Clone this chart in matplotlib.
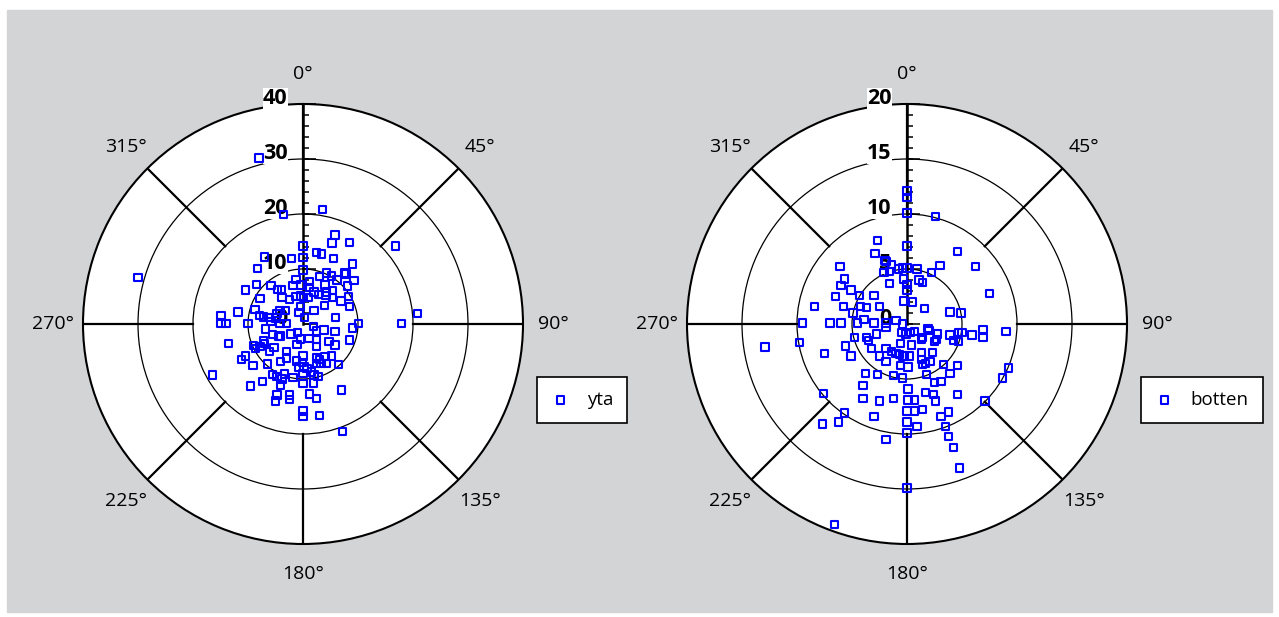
import numpy as np
import matplotlib.pyplot as plt
from matplotlib.patches import Rectangle

plt.rcParams['font.family'] = ['Open Sans', 'DejaVu Sans']

# current vectors, east / north components (cm/s)
yta_east = [
    -3.5, 3.6, 5.8, 5.3, 8.5, 16.8, 0.0, 2.4, 3.4, 5.5,
    -7.0, -2.1, 0.0, 9.0, -8.3, 0.0, 4.3, 5.2, 7.5, 7.8,
    6.2, 9.3, -1.3, 3.0, 1.2, -8.4, -5.8, -4.6, -3.9, -10.4,
    -1.8, -0.5, 1.2, 4.0, 8.1, -7.8, -3.8, -2.5, -1.3, -0.5,
    0.1, 1.0, 2.0, 2.8, 4.3, 5.4, 4.2, 5.4, 6.9, 8.3,
    8.5, 3.9, 2.0, -0.5, -0.7, -3.2, -4.2, -4.7, -8.7, -11.8,
    -14.9, -14.9, -14.0, -10.0, -7.9, -7.2, -6.2, -4.9, -5.8, -4.2,
    -3.0, 0.3, 5.9, 10.1, 9.0, 17.9, 20.8, 1.9, 2.5, 3.8,
    5.8, -2.2, -1.0, -0.5, 1.1, 2.5, 4.7, 5.8, 8.5, -6.8,
    -5.5, -4.5, -4.1, -13.5, -9.0, -8.6, -7.8, -7.2, -7.0, -6.1,
    -5.3, -1.1, 2.5, -3.0, -3.0, 0.0, -0.1, -1.2, 2.4, 3.0,
    4.0, 5.2, 2.4, 3.3, 4.3, 6.5, -10.4, -11.2, -9.1, -6.4,
    -4.1, -0.7, 0.2, 0.7, 0.0, 1.6, 2.0, 2.7, 1.9, -5.5,
    -4.7, -3.4, -1.8, -3.8, -4.1, -7.4, -9.6, 0.0, 1.2, 2.4,
    -2.4, -2.4, -4.7, -5.0, -16.4, 7.0, 0.0, 0.0, 3.0, 7.2,
    -30.0, -8.0,
]
yta_north = [
    19.9, 20.8, 16.2, 14.7, 14.8, 14.2, 14.2, 13.0, 12.7, 11.9,
    12.2, 11.9, 12.1, 10.9, 10.1, 9.8, 9.3, 8.7, 9.3, 9.1,
    8.0, 7.9, 8.1, 8.6, 7.7, 7.2, 7.0, 6.3, 6.3, 6.2,
    7.0, 7.1, 6.6, 7.1, 6.9, 4.6, 4.8, 4.5, 5.0, 5.1,
    4.8, 4.8, 5.8, 5.4, 5.8, 6.1, 5.2, 4.8, 4.2, 5.0,
    3.2, 3.4, 2.5, 3.2, 2.1, 2.5, 2.4, 1.9, 2.6, 2.2,
    1.5, 0.1, 0.1, 0.1, 1.5, 1.3, 1.2, 1.1, 0.4, 0.1,
    0.1, 1.2, 1.2, 0.1, -0.7, 0.1, 1.9, -0.5, -1.3, -1.1,
    -1.4, -1.8, -1.6, -2.7, -2.6, -2.8, -3.2, -3.8, -2.9, -0.9,
    -1.9, -2.3, -2.2, -3.5, -3.9, -4.5, -4.1, -3.1, -3.6, -5.0,
    -4.3, -3.7, -4.1, -5.0, -6.2, -5.8, -7.0, -6.7, -6.2, -6.4,
    -5.9, -5.8, -7.2, -7.2, -7.2, -7.4, -5.8, -6.4, -7.5, -7.3,
    -6.8, -7.8, -7.8, -8.1, -9.0, -8.7, -9.3, -9.5, -10.7, -9.2,
    -9.6, -9.1, -9.7, -10.0, -11.1, -10.5, -11.3, -10.8, -12.7, -13.6,
    -12.9, -13.7, -12.9, -14.0, -9.3, -12.0, -15.8, -16.8, -16.6, -19.6,
    8.4, 30.2,
]

botten_east = [
    0.0, 2.6, -2.7, -2.9, 0.0, 4.6, -2.0, -1.9, -1.4, -6.1,
    -0.8, -0.4, 0.0, 0.9, -2.1, -1.6, 2.2, 3.0, 6.2, -5.7,
    -6.0, -5.1, -1.6, -0.3, 0.0, 1.1, 1.4, 0.0, -6.5, -4.3,
    -3.0, 7.5, -8.4, -5.8, -4.2, -3.7, -2.5, -0.3, 0.5, 1.6,
    -4.9, -3.9, 3.9, 4.9, -9.5, -7.0, -6.0, -4.5, -3.0, -1.9,
    -1.0, -0.4, -1.9, -2.8, -4.8, -3.7, -3.5, -0.5, -0.1, 0.3,
    0.7, 1.3, 1.4, 1.9, 2.0, 2.8, 2.5, 2.7, 3.9, 4.7,
    5.0, 4.2, 4.7, 5.9, 6.9, 6.9, 9.0, -9.8, -5.6, -3.2,
    -5.1, -7.5, -0.6, 0.4, -1.9, -1.4, -1.0, -0.7, -0.4, -0.2,
    0.2, -2.5, -1.9, 1.3, 2.3, 1.3, 1.7, 2.1, 1.4, 3.3,
    4.6, -0.6, 0.1, -3.8, -2.7, -1.2, -0.4, 1.8, 3.9, 2.5,
    3.1, 9.2, 8.7, -4.0, -7.6, 0.1, 1.7, 2.4, 2.6, 4.6,
    -4.0, -2.5, -1.2, 0.1, 0.7, 7.1, -5.7, -3.0, 0.0, 0.7,
    1.4, 3.1, 3.8, -7.7, -6.2, 0.0, 0.9, 3.5, 0.0, 3.8,
    -1.9, 0.0, 0.0, 4.2, 4.8, 0.0, -6.6, -12.9,
]
botten_north = [
    10.1, 9.8, 7.6, 6.4, 7.1, 6.6, 5.8, 5.7, 5.4, 5.2,
    5.0, 5.1, 5.1, 5.0, 4.7, 4.8, 4.7, 5.3, 5.2, 4.1,
    3.5, 3.1, 3.7, 4.1, 3.6, 4.0, 3.8, 3.1, 2.5, 2.6,
    2.6, 2.8, 1.6, 1.6, 1.6, 1.5, 1.6, 2.1, 2.0, 1.4,
    1.0, 0.4, 1.1, 1.0, 0.1, 0.1, 0.1, 0.1, 0.1, 0.1,
    0.3, 0.0, -0.3, -0.9, -1.2, -1.2, -1.5, -0.8, -0.9, -0.8,
    -0.7, -1.4, -1.2, -0.4, -0.6, -0.9, -1.6, -1.4, -1.0, -0.8,
    -0.8, -1.5, -1.6, -1.0, -0.5, -1.2, -0.7, -1.7, -2.0, -2.2,
    -2.9, -2.7, -1.8, -1.9, -2.2, -2.5, -2.7, -2.8, -2.9, -2.9,
    -2.9, -2.9, -3.4, -2.6, -2.6, -3.2, -3.6, -3.4, -3.7, -3.7,
    -3.8, -3.8, -3.9, -4.5, -4.6, -4.7, -4.9, -4.6, -4.5, -5.3,
    -5.2, -4.0, -4.9, -5.6, -6.3, -5.9, -6.2, -6.4, -7.0, -6.4,
    -6.8, -7.0, -6.8, -6.9, -6.9, -7.0, -8.1, -8.4, -7.9, -7.9,
    -7.8, -8.4, -8.0, -9.1, -8.9, -8.9, -9.3, -9.3, -9.9, -10.2,
    -10.5, 12.1, 11.5, -11.2, -13.1, -14.9, -18.2, -2.1,
]

yta_rmax = 40
botten_rmax = 20
compass = [0, 45, 90, 135, 180, 225, 270, 315]

W, H = 1279, 617
fig = plt.figure(figsize=(W / 100, H / 100), dpi=100, facecolor='white')
fig.patches.append(Rectangle((7 / W, 5 / H), 1265 / W, 602 / H,
                             transform=fig.transFigure, color='#d3d4d6', zorder=-10))


def polar_panel(cx, east, north, rmax, label, legend_x):
    # 220 px radius around (cx, 324)
    ax = fig.add_axes([(cx - 220) / W, (H - 324 - 220) / H, 440 / W, 440 / H],
                      projection='polar')
    ax.set_facecolor('white')
    ax.set_theta_zero_location('N')
    ax.set_theta_direction(-1)
    ax.set_ylim(0, rmax)
    step = rmax / 4
    ax.set_yticks(np.arange(step, rmax, step))
    ax.set_yticklabels([])
    ax.set_xticks([])
    ax.yaxis.grid(True, color='black', lw=0.9)
    ax.spines['polar'].set_linewidth(1.5)

    # spokes between the middle ring and the rim
    for a in compass:
        t = np.deg2rad(a)
        ax.plot([t, t], [rmax / 2, rmax], color='black', lw=1.6, zorder=2)
        ax.text(t, rmax * 1.136, f'{a}°', ha='center', va='center',
                fontsize=14, clip_on=False)

    # radial scale along north
    ax.plot([0, 0], [0, rmax], color='black', lw=1.8, zorder=2, clip_on=False)
    minor = np.arange(0, rmax + 0.01, step / 5)
    major = np.arange(0, rmax + 0.01, step)
    ax.plot(np.zeros_like(minor), minor, ls='none', marker=1, ms=4.5, mew=1.1,
            color='black', zorder=2, clip_on=False)
    ax.plot(np.zeros_like(major), major, ls='none', marker=1, ms=9, mew=1.1,
            color='black', zorder=2, clip_on=False)
    for v in major:
        ax.annotate(f'{v:g}', xy=(0, v), xytext=(-11, 4), textcoords='offset points',
                    ha='right', va='center', fontsize=15.5, fontweight='bold',
                    bbox=dict(fc='white', ec='none', pad=0.3),
                    zorder=3, annotation_clip=False)

    east = np.asarray(east)
    north = np.asarray(north)
    theta = np.arctan2(east, north)
    speed = np.hypot(east, north)
    ax.scatter(theta, speed, marker='s', s=28, facecolors='none',
               edgecolors='#0000ff', linewidths=1.5, zorder=5, label=label)

    ax.legend(loc='upper left', bbox_to_anchor=(legend_x / W, 1 - 377 / H),
              bbox_transform=fig.transFigure, borderaxespad=0, fancybox=False,
              edgecolor='black', framealpha=1, fontsize=13.5, scatterpoints=1,
              borderpad=0.75, handlelength=1.0, handletextpad=0.9)
    ax.get_legend().get_frame().set_linewidth(1.2)
    return ax


polar_panel(303, yta_east, yta_north, yta_rmax, 'yta', 537)
polar_panel(907, botten_east, botten_north, botten_rmax, 'botten', 1141)

fig.savefig('out.png', dpi=100, facecolor='white')
